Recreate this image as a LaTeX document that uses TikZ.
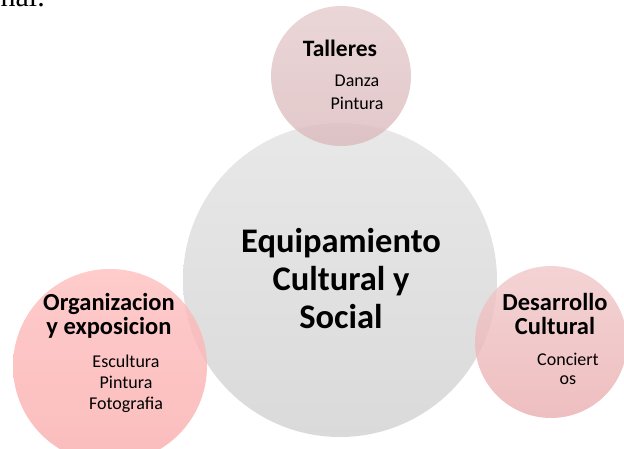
\documentclass[tikz,border=0pt]{standalone}
\usepackage{fontspec}
\setmainfont{Carlito}
\newfontfamily\bookfont{Liberation Serif}
\usetikzlibrary{positioning}

\definecolor{hubtop}{HTML}{E8E8E8}
\definecolor{hubbot}{HTML}{DADADA}
\definecolor{tallA}{HTML}{E5CCCD}
\definecolor{tallB}{HTML}{DBBABD}
\definecolor{orgA}{HTML}{FFBEBE}
\definecolor{orgB}{HTML}{F9ACAC}
\definecolor{desA}{HTML}{F1C8C9}
\definecolor{desB}{HTML}{EAAEB0}

\begin{document}
\begin{tikzpicture}[x=1pt, y=-1pt,
  hub/.style={circle, inner sep=0pt, minimum size=314pt, top color=hubtop, bottom color=hubbot},
  petal/.style={circle, inner sep=0pt, fill opacity=0.8},
  title/.style={font=\bfseries\fontsize{24.5}{23.5}\selectfont, align=center, anchor=base, inner sep=0pt},
  item/.style={font=\fontsize{18}{21}\selectfont, align=center, anchor=base, inner sep=0pt}]

\useasboundingbox (0,0) rectangle (624,449);
\clip (0,0) rectangle (624,449);

% circles
\node[hub] (equip) at (340,280) {};
\node[petal, minimum size=140pt, top color=tallA, bottom color=tallB] (talleres) at (341,76) {};
\node[petal, minimum size=194pt, top color=orgA, bottom color=orgB] (organiz) at (110,366) {};
\node[petal, minimum size=152pt, top color=desA, bottom color=desB] (desarr) at (551,342) {};

% texts (base = last line)
\node[anchor=base east, inner sep=0pt, font=\bookfont\fontsize{30}{30}\selectfont] (prev) at (45,7) {nal.};

\node[title, font=\bfseries\fontsize{34.5}{38}\selectfont] (equiptxt) at (341,328) {Equipamiento\\Cultural y\\Social};

\node[title, font=\bfseries\fontsize{23.5}{22}\selectfont] (talltit) at (340,57) {Talleres};
\node[item, font=\fontsize{18}{23}\selectfont] (tallitems) at (357,110) {Danza\\Pintura};

\node[title] (orgtit) at (109,334) {Organizacion\\y exposicion};
\node[item] (orgitems) at (126,409) {Escultura\\Pintura\\Fotografia};

\node[title, font=\bfseries\fontsize{24.5}{24}\selectfont] (destit) at (555,334) {Desarrollo\\Cultural};
\node[item, font=\fontsize{18}{19}\selectfont] (desitems) at (568,384) {Conciert\\os};

\end{tikzpicture}
\end{document}
